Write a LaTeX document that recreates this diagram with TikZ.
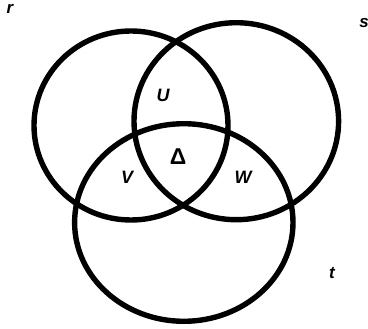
\documentclass[tikz,border=0pt]{standalone}
\usepackage{fontspec}
\setmainfont{Liberation Sans}
\usepackage{tikz}
\usetikzlibrary{positioning}

\begin{document}
\begin{tikzpicture}[x=1bp, y=1bp,
    setline/.style={line width=5.4bp, black},
    setlabel/.style={font=\fontsize{17}{17}\selectfont\bfseries\itshape, inner sep=0pt},
    partlabel/.style={font=\fontsize{18}{18}\selectfont\bfseries\itshape, inner sep=0pt}]
    \useasboundingbox (0,0) rectangle (368,329);

    % centres of the three sets
    \coordinate (Cr) at (131, 203.5);
    \coordinate (Cs) at (236.3, 207.8);
    \coordinate (Ct) at (183.8, 106.5);

    % the sets
    \draw[setline] (Cr) ellipse [x radius=97, y radius=94.5];
    \draw[setline] (Cs) ellipse [x radius=102.3, y radius=98.5];
    \draw[setline] (Ct) ellipse [x radius=109.2, y radius=98.8];

    % set names
    \node[setlabel] (r) at (10, 320) {r};
    \node[setlabel] (s) at (364, 306) {s};
    \node[setlabel] (t) at (332, 56) {t};

    % regions
    \node[partlabel] (U) at (163, 234) {U};
    \node[partlabel] (V) at (127, 152) {V};
    \node[partlabel] (W) at (243, 152) {W};
    \node[font=\fontsize{23}{23}\selectfont\bfseries, inner sep=0pt] (D) at (178, 172) {Δ};
\end{tikzpicture}
\end{document}
